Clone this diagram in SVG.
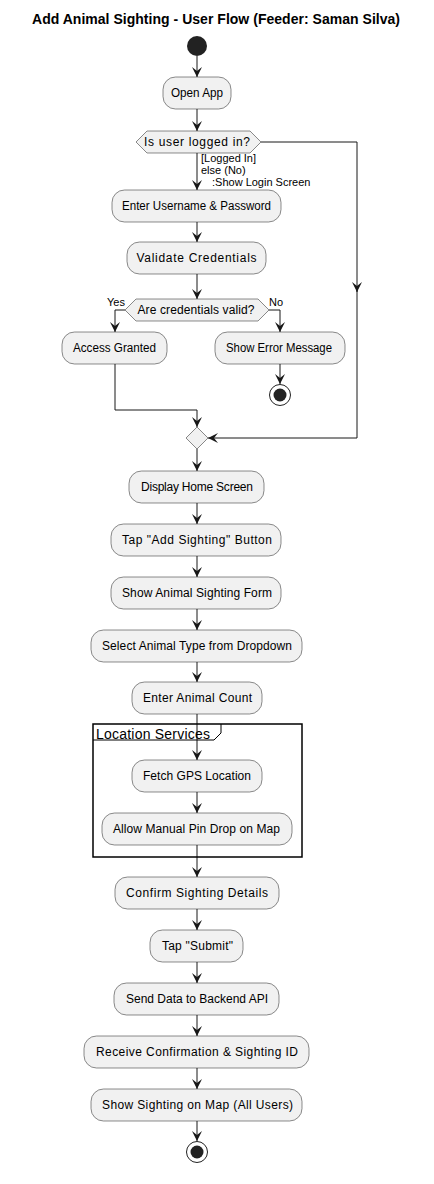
<svg xmlns="http://www.w3.org/2000/svg" width="434" height="1184" viewBox="0 0 434 1184">
<defs>
<style>
.box{fill:#F1F1F1;stroke:#181818;stroke-width:0.5}
.t{font-family:"Liberation Sans",Arial,sans-serif;font-size:12px;fill:#000;text-anchor:middle}
.l{font-family:"Liberation Sans",Arial,sans-serif;font-size:11px;fill:#000}
.c{fill:none;stroke:#181818;stroke-width:1}
</style>
<marker id="a" markerWidth="11" markerHeight="11" refX="10" refY="5" orient="auto" markerUnits="userSpaceOnUse">
<path d="M0,0 L10,5 L0,10 L4,5 Z" fill="#181818"/>
</marker>
</defs>
<rect width="434" height="1184" fill="#FFFFFF"/>
<text x="216" y="24" font-family="Liberation Sans,Arial,sans-serif" font-size="14" font-weight="bold" text-anchor="middle" textLength="368" lengthAdjust="spacing">Add Animal Sighting - User Flow (Feeder: Saman Silva)</text>

<g id="connectors">
<path class="c" d="M197,56 V77" marker-end="url(#a)"/>
<path class="c" d="M197,109 V131" marker-end="url(#a)"/>
<path class="c" d="M197,153 V190" marker-end="url(#a)"/>
<path class="c" d="M261,142 H357 V292" marker-end="url(#a)"/>
<path class="c" d="M357,290 V438 H208" marker-end="url(#a)"/>
<path class="c" d="M197,222 V242" marker-end="url(#a)"/>
<path class="c" d="M197,274 V299" marker-end="url(#a)"/>
<path class="c" d="M125,310 H115 V332" marker-end="url(#a)"/>
<path class="c" d="M269,310 H280 V332" marker-end="url(#a)"/>
<path class="c" d="M280,364 V384" marker-end="url(#a)"/>
<path class="c" d="M115,364 V410 H197 V427" marker-end="url(#a)"/>
<path class="c" d="M197,449 V471" marker-end="url(#a)"/>
<path class="c" d="M197,503 V524" marker-end="url(#a)"/>
<path class="c" d="M197,556 V577" marker-end="url(#a)"/>
<path class="c" d="M197,609 V630" marker-end="url(#a)"/>
<path class="c" d="M197,662 V682" marker-end="url(#a)"/>
<path class="c" d="M197,714 V760" marker-end="url(#a)"/>
<path class="c" d="M197,792 V813" marker-end="url(#a)"/>
<path class="c" d="M197,845 V877" marker-end="url(#a)"/>
<path class="c" d="M197,909 V930" marker-end="url(#a)"/>
<path class="c" d="M197,962 V983" marker-end="url(#a)"/>
<path class="c" d="M197,1015 V1036" marker-end="url(#a)"/>
<path class="c" d="M197,1068 V1089" marker-end="url(#a)"/>
<path class="c" d="M197,1121 V1141" marker-end="url(#a)"/>
<text class="l" x="201" y="162">[Logged In]</text>
<text class="l" x="201" y="174">else (No)</text>
<text class="l" x="212" y="186">:Show Login Screen</text>
<text class="l" x="107" y="306">Yes</text>
<text class="l" x="269" y="306">No</text>
</g>

<g id="start"><circle cx="197" cy="46" r="10" fill="#222222"/></g>

<g id="openApp"><rect class="box" x="163" y="77" width="68" height="32" rx="12.5"/><text class="t" x="197" y="97" textLength="52" lengthAdjust="spacingAndGlyphs">Open App</text></g>

<g id="loggedIn"><polygon class="box" points="136,142 147,131 250,131 261,142 250,153 147,153"/><text class="t" x="197" y="146" font-size="11" textLength="106" lengthAdjust="spacing">Is user logged in?</text></g>

<g id="enterCreds"><rect class="box" x="112" y="190" width="169" height="32" rx="12.5"/><text class="t" x="196.5" y="210" textLength="149" lengthAdjust="spacingAndGlyphs">Enter Username &amp; Password</text></g>

<g id="validate"><rect class="box" x="127" y="242" width="139" height="32" rx="12.5"/><text class="t" x="196.5" y="262" textLength="120" lengthAdjust="spacing">Validate Credentials</text></g>

<g id="credsValid"><polygon class="box" points="125,310 136,299 258,299 269,310 258,321 136,321"/><text class="t" x="196" y="314" font-size="11" textLength="117" lengthAdjust="spacing">Are credentials valid?</text></g>

<g id="accessGranted"><rect class="box" x="62" y="332" width="105" height="32" rx="12.5"/><text class="t" x="114.5" y="352" textLength="83" lengthAdjust="spacingAndGlyphs">Access Granted</text></g>

<g id="showError"><rect class="box" x="215" y="332" width="130" height="32" rx="12.5"/><text class="t" x="279" y="352" textLength="106" lengthAdjust="spacingAndGlyphs">Show Error Message</text></g>

<g id="endError"><circle cx="280" cy="395" r="10.5" fill="#FFFFFF" stroke="#222222" stroke-width="1"/><circle cx="280" cy="395" r="6.5" fill="#222222"/></g>

<g id="merge"><polygon class="box" points="197,427 208,438 197,449 186,438"/></g>

<g id="home"><rect class="box" x="129" y="471" width="135" height="32" rx="12.5"/><text class="t" x="197" y="491" textLength="112" lengthAdjust="spacing">Display Home Screen</text></g>

<g id="tapAdd"><rect class="box" x="111" y="524" width="170" height="32" rx="12.5"/><text class="t" x="197" y="544" textLength="150" lengthAdjust="spacing">Tap "Add Sighting" Button</text></g>

<g id="showForm"><rect class="box" x="111" y="577" width="170" height="32" rx="12.5"/><text class="t" x="197" y="597" textLength="150" lengthAdjust="spacing">Show Animal Sighting Form</text></g>

<g id="selectType"><rect class="box" x="91" y="630" width="211" height="32" rx="12.5"/><text class="t" x="197" y="650" textLength="190" lengthAdjust="spacing">Select Animal Type from Dropdown</text></g>

<g id="count"><rect class="box" x="132" y="682" width="130" height="32" rx="12.5"/><text class="t" x="197.5" y="702" textLength="109" lengthAdjust="spacing">Enter Animal Count</text></g>

<g id="locationServices">
<rect x="93" y="724" width="209" height="133" fill="none" stroke="#000" stroke-width="1.5"/>
<path d="M93,740 H214 L221,733 V724" fill="none" stroke="#000" stroke-width="1"/>
<text x="96" y="739" font-family="Liberation Sans,Arial,sans-serif" font-size="14" textLength="114" lengthAdjust="spacing">Location Services</text>
</g>

<g id="gps"><rect class="box" x="132" y="760" width="130" height="32" rx="12.5"/><text class="t" x="197" y="780" textLength="108" lengthAdjust="spacing">Fetch GPS Location</text></g>

<g id="pin"><rect class="box" x="102" y="813" width="190" height="32" rx="12.5"/><text class="t" x="196.5" y="833" textLength="167" lengthAdjust="spacing">Allow Manual Pin Drop on Map</text></g>

<g id="confirm"><rect class="box" x="115" y="877" width="164" height="32" rx="12.5"/><text class="t" x="197" y="897" textLength="142" lengthAdjust="spacing">Confirm Sighting Details</text></g>

<g id="submit"><rect class="box" x="150" y="930" width="93" height="32" rx="12.5"/><text class="t" x="197.5" y="950" textLength="71" lengthAdjust="spacing">Tap "Submit"</text></g>

<g id="send"><rect class="box" x="114" y="983" width="165" height="32" rx="12.5"/><text class="t" x="197" y="1003" textLength="142" lengthAdjust="spacing">Send Data to Backend API</text></g>

<g id="receive"><rect class="box" x="84" y="1036" width="225" height="32" rx="12.5"/><text class="t" x="197" y="1056" textLength="202" lengthAdjust="spacing">Receive Confirmation &amp; Sighting ID</text></g>

<g id="showMap"><rect class="box" x="91" y="1089" width="211" height="32" rx="12.5"/><text class="t" x="197.5" y="1109" textLength="191" lengthAdjust="spacing">Show Sighting on Map (All Users)</text></g>

<g id="end"><circle cx="197" cy="1152" r="10.5" fill="#FFFFFF" stroke="#222222" stroke-width="1"/><circle cx="197" cy="1152" r="6.5" fill="#222222"/></g>
</svg>
